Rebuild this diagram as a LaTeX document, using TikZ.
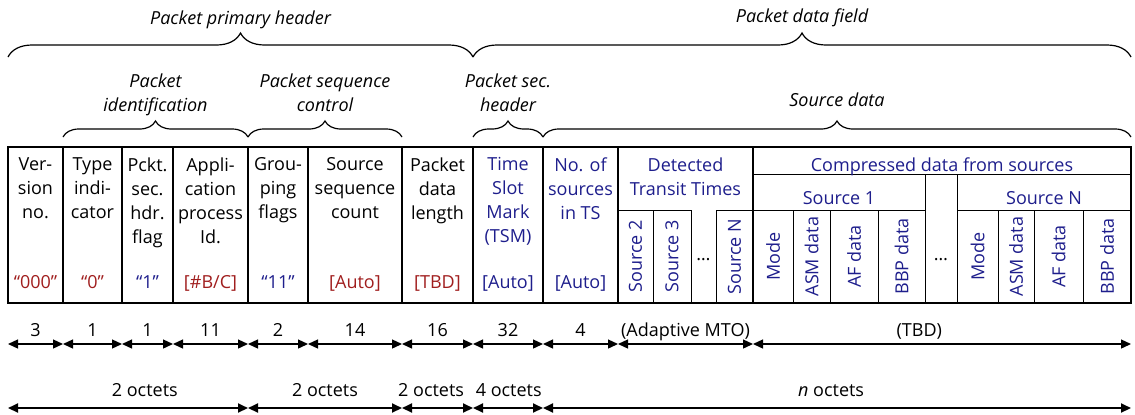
\documentclass[tikz,border=0pt]{standalone}
\usepackage{fontspec}
\setmainfont{Open Sans}
\usetikzlibrary{arrows.meta, decorations.pathreplacing}
\definecolor{valred}{RGB}{160,30,30}
\definecolor{valblue}{RGB}{30,30,140}

\begin{document}
\begin{tikzpicture}[
    x=0.5pt, y=-0.5pt,
    outerbox/.style={line width=1.2pt},
    divider/.style={line width=0.9pt},
    subdiv/.style={line width=0.5pt},
    field/.style={anchor=north, align=center, inner sep=0pt, font=\fontsize{9}{12}\selectfont},
    value/.style={anchor=base, inner sep=0pt, font=\fontsize{9}{12}\selectfont},
    vert/.style={rotate=90, inner sep=0pt, text=valblue, font=\fontsize{9}{12}\selectfont},
    curly/.style={decorate, decoration={brace, amplitude=#1}, line width=0.6pt},
    bracelabel/.style={align=center, inner sep=0pt, text depth=0pt, font=\fontsize{9}{12}\selectfont\itshape},
    dimarrow/.style={{Triangle[length=5pt, width=4.5pt]}-{Triangle[length=5pt, width=4.5pt]}, line width=#1},
    dimlabel/.style={inner sep=0pt, text depth=0pt, font=\fontsize{9}{12}\selectfont}
]
    \useasboundingbox (0,0) rectangle (1135,414);

    % Field boundaries
    \foreach \n/\x in {0/8, 1/63, 2/122, 3/173, 4/248, 5/308, 6/402, 7/473, 8/543, 9/618, 10/753, 11/1131} {
        \coordinate (t\n) at (\x,147);
        \coordinate (b\n) at (\x,303);
    }
    \coordinate (lvl1) at (0,57);
    \coordinate (lvl2) at (0,137);
    \coordinate (r1) at (0,344);
    \coordinate (r2) at (0,408);

    % Packet fields
    \draw[outerbox] (t0) rectangle (b11);
    \foreach \n in {1,...,10} \draw[divider] (t\n) -- (b\n);
    \draw[subdiv] (618,210) -- (691,210) (716,210) -- (753,210);
    \foreach \x in {653, 691, 716} \draw[subdiv] (\x,210) -- (\x,303);
    \draw[subdiv] (753,174) -- (1131,174) (753,210) -- (925,210) (957,210) -- (1131,210);
    \foreach \x in {925, 957} \draw[subdiv] (\x,174) -- (\x,303);
    \foreach \x in {793, 830, 878, 998, 1034, 1083} \draw[subdiv] (\x,210) -- (\x,303);

    \node[field] (ver) at (35.5,157) {Ver-\\sion\\no.};
    \node[field] (type) at (92.5,157) {Type\\indi-\\cator};
    \node[field] (flag) at (147.5,157) {Pckt.\\sec.\\hdr.\\flag};
    \node[field] (apid) at (210.5,157) {Appli-\\cation\\process\\Id.};
    \node[field] (grp) at (278,157) {Grou-\\ping\\flags};
    \node[field] (ssc) at (355,157) {Source\\sequence\\count};
    \node[field] (len) at (437.5,157) {Packet\\data\\length};
    \node[field, text=valblue] (tsm) at (508,157) {Time\\Slot\\Mark\\(TSM)};
    \node[field, text=valblue] (nsrc) at (580.5,157) {No. of\\sources\\in TS};
    \node[field, text=valblue] (dtt) at (685.5,157) {Detected\\Transit Times};
    \node[field, text=valblue] (cmp) at (942,157) {Compressed data from sources};
    \node[value, text=valblue] (src1) at (839,204) {Source 1};
    \node[value, text=valblue] (srcn) at (1044,204) {Source N};

    % Values
    \node[value, text=valred] (vver) at (35.5,288) {“000”};
    \node[value, text=valred] (vtype) at (92.5,288) {“0”};
    \node[value, text=valblue] (vflag) at (147.5,288) {“1”};
    \node[value, text=valred] (vapid) at (210.5,288) {[\#B/C]};
    \node[value, text=valblue] (vgrp) at (278,288) {“11”};
    \node[value, text=valred] (vssc) at (355,288) {[Auto]};
    \node[value, text=valred] (vlen) at (437.5,288) {[TBD]};
    \node[value, text=valblue] (vtsm) at (508,288) {[Auto]};
    \node[value, text=valblue] (vnsrc) at (580.5,288) {[Auto]};

    % Sub-fields
    \foreach \x/\txt in {635.5/Source 2, 672/Source 3, 734.5/Source N,
                         773/Mode, 811.5/ASM data, 854/AF data, 901.5/BBP data,
                         977.5/Mode, 1016/ASM data, 1058.5/AF data, 1107/BBP data}
        \node[vert] at (\x,256.5) {\txt};
    \node[value] (dots1) at (703.5,260) {\ldots};
    \node[value] (dots2) at (941,260) {\ldots};

    % Braces
    \draw[curly=12pt] (t0 |- lvl1) -- (t7 |- lvl1)
        node[bracelabel, midway, above=16pt] (pph) {Packet primary header};
    \draw[curly=12pt] (t7 |- lvl1) -- (t11 |- lvl1)
        node[bracelabel, midway, above=17pt] (pdf) {Packet data field};
    \draw[curly=8pt] (t1 |- lvl2) -- (t4 |- lvl2)
        node[bracelabel, midway, above=12.5pt] (pid) {Packet\\identification};
    \draw[curly=8pt] (t4 |- lvl2) -- (t6 |- lvl2)
        node[bracelabel, midway, above=12.5pt] (psc) {Packet sequence\\control};
    \draw[curly=8pt] (t7 |- lvl2) -- (t8 |- lvl2)
        node[bracelabel, midway, above=12.5pt] (psh) {Packet sec.\\header};
    \draw[curly=8pt] (t8 |- lvl2) -- (t11 |- lvl2)
        node[bracelabel, midway, above=15pt] (sd) {Source data};

    % Bit lengths
    \foreach \a/\b/\txt in {0/1/3, 1/2/1, 2/3/1, 3/4/11, 4/5/2, 5/6/14, 6/7/16, 7/8/32, 8/9/4, 9/10/(Adaptive MTO)}
        \draw[dimarrow=0.65pt] (t\a |- r1) -- (t\b |- r1) node[dimlabel, midway, above=3.5pt] {\txt};
    \draw[dimarrow=0.65pt] (t10 |- r1) -- (t11 |- r1) node[dimlabel, pos=0.44, above=3.5pt] {(TBD)};

    % Octets
    \draw[dimarrow=1pt] (t0 |- r2) -- (t4 |- r2) node[dimlabel, pos=0.57, above=5.5pt] {2 octets};
    \draw[dimarrow=1pt] (t4 |- r2) -- (t6 |- r2) node[dimlabel, midway, above=5.5pt] {2 octets};
    \draw[dimarrow=1pt] (t6 |- r2) -- (t7 |- r2) node[dimlabel, pos=0.41, above=5.5pt] {2 octets};
    \draw[dimarrow=1pt] (t7 |- r2) -- (t8 |- r2) node[dimlabel, pos=0.51, above=5.5pt] {4 octets};
    \draw[dimarrow=1pt] (t8 |- r2) -- (t11 |- r2) node[dimlabel, pos=0.49, above=5.5pt] {{\itshape n} octets};
\end{tikzpicture}
\end{document}
